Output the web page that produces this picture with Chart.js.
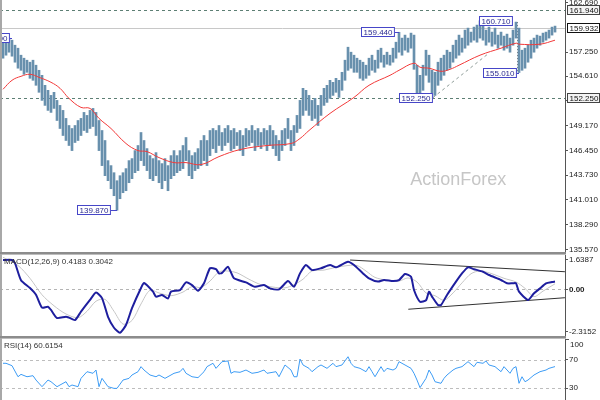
<!DOCTYPE html>
<html><head><meta charset="utf-8">
<script src="https://cdn.jsdelivr.net/npm/chart.js@4.4.1/dist/chart.umd.min.js"></script>
<style>
html,body{margin:0;padding:0;background:#fff;width:600px;height:400px;overflow:hidden;position:relative}
canvas{position:absolute;left:0}
#c1{top:0}#c2{top:254px}#c3{top:338px}
</style></head><body>
<canvas id="c1" width="600" height="254"></canvas>
<canvas id="c2" width="600" height="84"></canvas>
<canvas id="c3" width="600" height="62"></canvas>
<script>
// ---- price bars (bar index 0..184) ----
const highs = [
158.35,158.57,158.80,158.57,158.02,157.69,156.92,156.59,156.37,156.15,
156.37,155.82,155.26,154.71,153.61,153.06,152.50,152.84,151.95,151.40,
150.85,149.97,149.19,148.86,149.19,149.74,149.97,150.63,150.30,150.85,
151.07,150.63,149.74,148.64,147.54,145.33,144.78,144.00,143.12,143.67,
144.00,144.45,145.33,145.55,146.43,146.99,148.42,147.54,146.65,145.88,
145.55,146.21,145.33,145.00,145.55,144.78,145.88,146.43,145.88,146.43,
146.99,147.87,146.43,145.88,146.21,146.65,147.54,148.09,147.54,148.64,
148.86,148.64,149.19,148.42,148.86,149.19,148.64,148.86,148.42,148.64,
148.09,148.86,148.64,149.19,148.64,148.86,148.42,148.86,148.64,149.19,
148.64,148.09,147.54,148.64,148.86,149.97,148.64,149.19,150.30,151.95,
153.28,153.06,152.50,151.95,152.17,151.40,152.50,153.28,153.61,154.16,
153.94,154.38,154.16,155.04,156.37,157.80,157.25,156.92,156.59,156.37,
156.15,155.82,156.59,156.92,156.37,157.47,157.69,156.92,157.25,156.92,
157.69,158.35,159.44,158.80,159.13,158.80,159.35,159.13,155.82,154.71,
155.82,157.47,156.92,155.26,155.04,156.15,156.59,156.92,157.47,157.25,
158.02,158.57,159.13,158.80,159.68,159.90,159.46,160.01,160.23,160.71,
160.23,159.68,160.01,159.46,159.90,159.13,159.46,159.02,159.24,158.80,
159.68,160.56,159.90,157.47,157.69,158.02,158.57,158.80,159.13,159.02,
159.35,159.46,159.68,160.01,160.12];
const lows = [
156.59,156.92,157.25,156.81,156.15,155.49,155.26,154.82,155.04,154.38,
154.16,153.61,152.84,151.95,151.40,150.85,150.63,151.07,149.74,148.86,
148.09,147.54,146.99,146.43,147.32,147.54,148.09,148.64,148.42,148.86,
149.08,148.09,146.43,144.78,143.67,143.12,142.24,141.47,139.87,141.14,
141.80,142.02,142.90,143.34,144.00,144.23,145.33,144.78,144.23,143.34,
143.12,143.67,142.90,142.24,143.12,142.02,143.34,143.67,144.00,144.23,
144.45,145.33,143.67,143.34,144.23,144.45,144.78,145.33,144.78,145.88,
146.65,146.21,146.99,146.43,146.99,147.32,146.43,146.65,146.99,146.43,
145.88,146.87,146.99,147.32,146.43,146.99,146.65,147.10,146.43,146.99,
146.65,145.88,145.33,146.43,146.99,147.76,146.43,146.99,148.42,148.86,
150.30,150.85,150.30,149.74,149.97,149.19,150.30,151.40,151.73,152.17,
152.50,152.84,152.28,153.06,154.16,155.26,155.49,155.04,155.04,154.38,
154.16,154.38,154.71,155.26,155.04,155.49,156.15,155.60,155.93,155.82,
156.15,156.59,157.25,156.92,157.47,157.25,157.69,155.37,152.50,152.30,
153.06,154.71,153.94,152.25,152.50,153.61,154.16,154.71,155.26,155.49,
156.15,156.59,156.92,157.25,157.69,158.02,158.35,158.57,158.35,158.80,
158.57,158.02,158.35,157.91,158.13,157.69,158.02,157.47,157.69,157.25,
158.02,158.80,155.01,155.26,155.49,156.15,156.59,157.25,157.69,158.02,
158.35,158.57,158.80,159.13,159.46];

// ---- moving average (red) ----
const maIdx = [0,3,6,9,12,16,19,22,26,29,32,36,41,45,48,52,57,61,66,72,79,88,96,99,102,109,117,122,129,132,137,139,142,146,149,152,159,166,171,172,179,184];
const maVal = [153.17,154.16,154.60,154.82,154.49,153.94,153.28,152.17,151.18,151.07,149.97,148.86,147.21,146.43,146.32,145.66,145.11,145.11,144.89,145.77,146.54,146.99,147.21,147.76,148.64,150.52,152.28,153.61,154.71,155.26,156.04,155.60,155.49,155.15,155.37,155.82,156.92,157.69,158.24,158.13,158.13,158.57];

// ---- MACD ----
const macdIdx = [0,3,4,6,9,11,13,15,16,18,21,22,24,26,29,31,33,35,37,39,41,43,46,47,50,51,53,55,56,59,61,63,65,67,69,71,72,73,75,77,81,84,87,89,92,95,97,99,101,103,106,109,111,115,117,120,122,125,127,130,132,134,136,137,139,141,142,143,145,146,148,151,153,155,157,160,162,166,168,170,171,172,175,177,179,181,183,184];
const macdVal = [1.60,1.60,1.43,0.50,0.07,-0.30,-1.00,-0.95,-1.13,-1.57,-1.50,-1.55,-1.68,-1.22,-0.58,-0.18,-0.48,-1.50,-2.10,-2.37,-1.95,-1.03,0.07,0.34,-0.13,-0.40,-0.31,-0.50,-0.13,-0.04,0.38,0.23,-0.08,0.33,1.15,1.10,0.87,0.90,1.23,0.60,0.38,0.14,0.23,0.05,0.00,0.45,0.14,0.87,1.33,1.05,1.15,1.33,1.20,1.51,1.33,0.87,0.60,0.42,0.51,0.45,0.50,0.84,0.69,-0.04,-0.68,-0.60,-0.13,-0.40,-0.86,-0.86,-0.31,0.42,0.87,1.20,1.10,0.96,0.78,0.51,0.33,0.33,0.33,-0.13,-0.58,-0.22,0.05,0.33,0.40,0.42];
const sigIdx = [0,5,9,13,17,21,25,28,31,34,37,40,43,46,49,52,56,60,63,66,69,72,75,78,82,86,90,94,97,100,103,107,111,115,118,121,124,128,132,135,138,141,144,147,150,153,156,159,163,167,171,174,177,180,184];
const sigVal = [1.75,1.30,0.60,-0.30,-0.90,-1.35,-1.55,-1.20,-0.65,-0.55,-1.20,-1.90,-1.70,-0.80,-0.05,-0.20,-0.35,-0.15,0.15,0.10,0.45,0.95,1.00,0.90,0.55,0.25,0.12,0.08,0.25,0.55,1.00,1.05,1.20,1.30,1.30,1.00,0.65,0.50,0.45,0.62,0.40,-0.20,-0.35,-0.60,-0.20,0.35,0.85,1.00,0.85,0.60,0.40,0.05,-0.40,-0.10,0.30];
const macdUpX = [115.7,187.3], macdUpY = [1.60,0.96];
const macdLoX = [135.1,187.3], macdLoY = [-1.09,-0.46];

// ---- RSI ----
const rsiIdx = [0,1,3,5,6,8,10,11,13,15,16,18,19,21,22,23,25,26,28,30,31,32,33,35,37,38,40,42,43,45,46,47,49,51,52,54,56,57,59,60,61,63,65,67,68,70,71,73,75,76,77,79,81,83,85,87,88,91,92,94,96,97,98,99,100,102,103,105,106,108,110,111,113,115,116,117,119,121,122,123,124,126,127,128,130,131,132,134,136,137,138,139,141,142,143,144,146,147,148,150,151,153,155,157,158,160,161,162,164,166,167,169,170,171,172,173,174,175,177,179,181,182,184];
const rsiVal = [65.3,65.3,61.9,46.1,49.5,46.1,47.6,41.4,31.9,41.4,39.0,31.9,34.3,39.0,31.9,34.3,31.9,43.8,53.3,51.0,55.7,31.9,43.8,31.9,29.5,29.5,41.4,43.8,48.6,53.3,60.5,55.7,48.6,46.1,48.6,43.8,48.6,51.0,53.3,58.1,51.0,46.1,44.8,53.3,60.5,65.3,58.1,67.6,68.6,51.0,53.3,52.4,55.7,51.0,52.4,55.7,51.0,53.3,46.1,62.9,55.7,46.1,46.1,71.4,62.9,58.1,53.3,60.5,62.9,58.1,65.3,60.5,62.9,74.7,65.3,60.5,58.1,53.3,60.5,53.3,46.1,60.5,53.3,58.1,55.7,58.1,67.6,62.9,58.1,51.0,41.4,30.5,43.8,55.7,48.6,39.0,36.7,43.8,48.6,55.7,58.1,60.5,67.6,60.5,66.7,65.3,68.6,62.9,60.5,53.3,60.5,51.0,58.1,60.5,36.7,46.1,39.0,41.4,48.6,53.3,55.7,58.1,60.6];

// ---- ticks, levels, labels ----
const mainTicks = [162.69,157.25,154.61,151.89,149.17,146.45,143.73,141.01,138.29,135.57];
const macdTicks = [1.6387,0,-2.3152];
const rsiTicks = [70,30];
const rsiTopLabel = 100;
const levelLines = [161.94,152.25];
const lastPrice = 159.932;
const axisMarks = [161.94,159.932,152.25];
const calloutBar = [3,38,132,143,159,172];
const calloutPrice = [158.80,139.87,159.44,152.25,160.71,155.01];
const trendMainX = [143.3,162], trendMainY = [152.25,157.15];
const vLineX = [171.5,171.5], vLineY = [160.56,155.01];
const macdTitle = 'MACD(12,26,9) 0.4183 0.3042';
const rsiTitle = 'RSI(14) 60.6154';

const FONT = 'Liberation Sans, Arial, sans-serif';
const xScale = {type:'linear',display:false,offset:false,bounds:'ticks',min:-1,max:187.33,grid:{offset:false}};
const pts = (xs,ys)=>xs.map((v,k)=>({x:v,y:ys[k]}));

function yAxis(min,max,ticks,fmt,bold){
  return {position:'right',min,max,
    afterBuildTicks:s=>{s.ticks=ticks.map(v=>({value:v}));},
    afterFit:s=>{s.width=35;s.paddingTop=0;s.paddingBottom=0;},
    ticks:{autoSkip:false,padding:1,color:'#222',
      font:c=>({family:FONT,size:8,weight:(bold&&c.tick&&c.tick.value===0)?'bold':'normal'}),
      callback:v=>fmt(v)},
    grid:{drawOnChartArea:false,drawTicks:true,tickLength:3,color:'#555'},
    border:{display:true,color:'#555',width:1}};
}
const baseOpts = {responsive:false,animation:false,devicePixelRatio:1,events:[],
  plugins:{legend:{display:false},tooltip:{enabled:false}},layout:{padding:0}};

function frame(bottomSep){
  return {id:'frame',afterDraw(chart){
    const c=chart.ctx,h=chart.height;
    c.save();
    c.fillStyle='#a8a8a8';c.fillRect(0,0,2,h);
    if(bottomSep){c.fillStyle='#8c8c8c';c.fillRect(0,h-2,566,2);}
    c.restore();}};
}
function hline(c,a,py,color,dash){
  c.save();c.strokeStyle=color;c.lineWidth=1;c.setLineDash(dash);
  c.beginPath();c.moveTo(a.left,Math.round(py)+0.5);c.lineTo(a.right,Math.round(py)+0.5);c.stroke();c.restore();
}
function labelBox(c,text,x,cy,w,fill,stroke,color){
  c.save();c.font='8px '+FONT;
  const tw=w||c.measureText(text).width+5;
  const top=Math.round(cy)-5;
  c.fillStyle=fill;c.fillRect(x,top,tw,10);
  c.strokeStyle=stroke;c.lineWidth=1;c.strokeRect(Math.round(x)+0.5,top+0.5,tw-1,9);
  c.fillStyle=color;c.textBaseline='middle';c.fillText(text,x+2.5,top+5.5);
  c.restore();return tw;
}

// main decorations
const mainDecor = {id:'mainDecor',
  beforeDatasetsDraw(chart){
    const c=chart.ctx,a=chart.chartArea,y=chart.scales.y;
    levelLines.forEach(v=>hline(c,a,y.getPixelForValue(v),'#5d7f74',[3,3]));
    hline(c,a,y.getPixelForValue(lastPrice),'#c8c8c8',[]);
    c.save();c.font='18px '+FONT;c.fillStyle='#c6c6c6';c.textBaseline='middle';
    c.fillText('ActionForex',a.left+a.width*0.726,a.top+a.height*0.71);c.restore();
  },
  afterDatasetsDraw(chart){
    const c=chart.ctx,x=chart.scales.x,y=chart.scales.y;
    const place=[{s:'L',g:2},{s:'L',g:6},{s:'L',g:4},{s:'L',g:-1},{s:'R',g:-1},{s:'L',g:2}];
    calloutBar.forEach((b,k)=>{
      const px=x.getPixelForValue(b),py=y.getPixelForValue(calloutPrice[k]);
      c.save();c.font='8px '+FONT;const w=c.measureText(calloutPrice[k].toFixed(3)).width+5;c.restore();
      const p=place[k];
      const bx=p.s==='L'?px-p.g-w:px+p.g;
      c.save();c.strokeStyle='#4646c8';c.lineWidth=1;c.beginPath();
      c.moveTo(p.s==='L'?bx+w:bx,Math.round(py)+0.5);c.lineTo(px,Math.round(py)+0.5);c.stroke();c.restore();
      labelBox(c,calloutPrice[k].toFixed(3),bx,py,w,'#ffffff','#4646c8','#2a2a90');
    });
  },
  afterDraw(chart){
    const c=chart.ctx,y=chart.scales.y;
    axisMarks.forEach((v,k)=>{
      labelBox(c,v.toFixed(3),567,y.getPixelForValue(v),33,k===1?'#ffffff':'#f4f4f4',k===1?'#111':'#444','#111');
    });
  }};

new Chart(document.getElementById('c1'),{
  type:'bar',
  data:{datasets:[
    {type:'line',data:pts(maIdx,maVal),borderColor:'#f23a3a',borderWidth:1,pointRadius:0,tension:0.4,order:0},
    {type:'bar',data:highs.map((h,i)=>({x:i,y:[lows[i],h]})),backgroundColor:'#6890ad',barThickness:2,order:1},
    {type:'line',data:pts(trendMainX,trendMainY),borderColor:'#8e9c98',borderDash:[3,3],borderWidth:1,pointRadius:0,order:2},
    {type:'line',data:pts(vLineX,vLineY),borderColor:'#6f6f6f',borderDash:[1,2],borderWidth:1,pointRadius:0,order:2}
  ]},
  options:{...baseOpts,scales:{x:xScale,y:yAxis(135.06,162.99,mainTicks,v=>v.toFixed(3),false)}},
  plugins:[mainDecor,frame(true)]
});

// MACD panel
const macdDecor={id:'macdDecor',
  beforeDatasetsDraw(chart){
    const c=chart.ctx,a=chart.chartArea,y=chart.scales.y;
    hline(c,a,y.getPixelForValue(0),'#b4b4b4',[3,3]);
    c.save();c.fillStyle='#bdbdbd';c.fillRect(0,0,566,1);c.restore();
  },
  afterDraw(chart){
    const c=chart.ctx;c.save();c.font='8px '+FONT;c.fillStyle='#333';c.textBaseline='middle';
    c.fillText(macdTitle,4,8);c.restore();
  }};
new Chart(document.getElementById('c2'),{
  type:'line',
  data:{datasets:[
    {data:pts(macdIdx,macdVal),borderColor:'#1e1e9e',borderWidth:2,pointRadius:0,tension:0.2,order:0},
    {data:pts(sigIdx,sigVal),borderColor:'#c6c6c6',borderWidth:1,pointRadius:0,tension:0.3,order:1},
    {data:pts(macdUpX,macdUpY),borderColor:'#333',borderWidth:1,pointRadius:0,order:2},
    {data:pts(macdLoX,macdLoY),borderColor:'#333',borderWidth:1,pointRadius:0,order:2}
  ]},
  options:{...baseOpts,scales:{x:xScale,y:yAxis(-2.661,1.929,macdTicks,v=>v===0?'0.00':v.toFixed(4),true)}},
  plugins:[macdDecor,frame(true)]
});

// RSI panel
const rsiDecor={id:'rsiDecor',
  beforeDatasetsDraw(chart){
    const c=chart.ctx,a=chart.chartArea,y=chart.scales.y;
    rsiTicks.forEach(v=>hline(c,a,y.getPixelForValue(v),'#bdbdbd',[3,3]));
    c.save();c.fillStyle='#bdbdbd';c.fillRect(0,0,566,1);c.restore();
  },
  afterDraw(chart){
    const c=chart.ctx,y=chart.scales.y;c.save();c.font='8px '+FONT;c.textBaseline='middle';
    c.fillStyle='#333';c.fillText(rsiTitle,4,8);
    c.fillStyle='#222';c.fillText(String(rsiTopLabel),570,7);
    c.fillStyle='#555';c.fillRect(566,Math.round(y.getPixelForValue(rsiTopLabel)),3,1);
    c.restore();
  }};
new Chart(document.getElementById('c3'),{
  type:'line',
  data:{datasets:[
    {data:pts(rsiIdx,rsiVal),borderColor:'#3d9cf5',borderWidth:1,pointRadius:0,tension:0}
  ]},
  options:{...baseOpts,scales:{x:xScale,y:yAxis(12.9,101.4,rsiTicks,v=>String(v),false)}},
  plugins:[rsiDecor,frame(false)]
});
</script>
</body></html>
